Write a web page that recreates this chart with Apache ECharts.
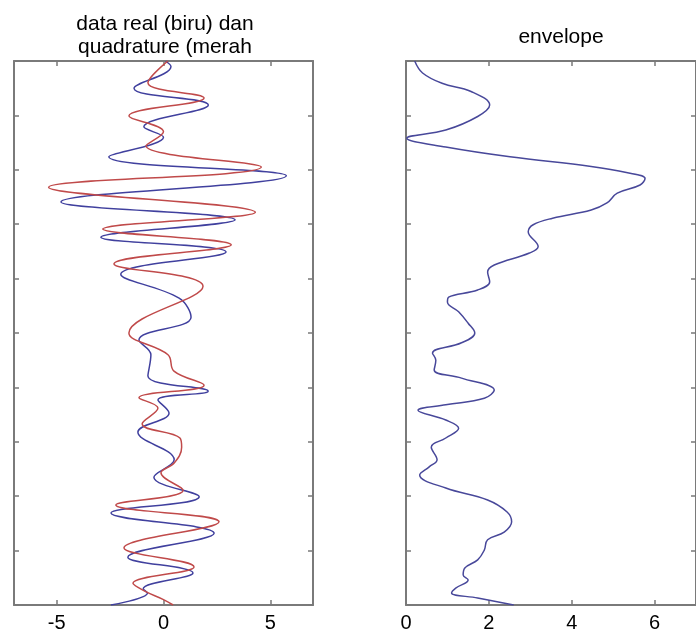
<!DOCTYPE html>
<html>
<head>
<meta charset="utf-8">
<script src="https://cdn.jsdelivr.net/npm/echarts@6/dist/echarts.min.js"></script>
<style>
  html, body { margin: 0; padding: 0; background: #fff; overflow: hidden; }
  #chart { width: 696px; height: 636px; }
</style>
</head>
<body>
<div id="chart"></div>
<script>
// Real trace (blue): depth samples and amplitudes
const blueDepth = [0, 1, 5.0, 8.1, 12.1, 14.0, 17.6, 21.1, 25.9, 29.2, 32.4, 35.1, 39.2, 43.6, 47.1, 51.3, 54.0, 57.9, 60.7, 62.3, 64.7, 68.2, 73.3, 76.5, 80.1, 83.1, 86.8, 91.2, 94.1, 97.0, 97.8, 100];
const blueValue = [0.1, 0.35, -1.38, 2.1, -0.92, 0.0, -2.56, 5.75, -4.8, 3.35, -2.93, 2.93, -2.0, 0.73, 1.29, -1.15, -0.59, -0.73, 2.09, -0.26, 0.26, -1.2, 0.5, -0.45, 1.67, -2.46, 2.37, -1.67, 1.38, -0.95, -0.75, -2.46];

// Quadrature trace (red)
const redDepth = [0, 4.0, 6.8, 10.1, 13.0, 15.6, 19.5, 23.2, 27.8, 30.9, 33.8, 37.3, 41.4, 50.0, 54.0, 57.0, 59.6, 61.9, 63.8, 66.7, 69.3, 71.0, 73.9, 75.7, 78.9, 81.6, 84.7, 89.5, 93.0, 96.0, 97.4, 99.0, 100];
const redValue = [0.2, -0.73, 1.9, -1.62, 0.0, -0.82, 4.58, -5.38, 4.3, -2.84, 3.17, -2.32, 1.85, -1.62, 0.21, 0.49, 1.9, -1.15, -0.26, -1.0, 0.77, 0.85, 0.5, -0.12, 0.92, -2.23, 2.6, -1.85, 1.43, -1.43, -0.9, 0.0, 0.45];

// Envelope
const envDepth = [0, 2.2, 4.1, 5.6, 8.1, 10.2, 12.7, 14.2, 15.8, 17.6, 19.4, 20.5, 21.6, 22.8, 24.3, 26.1, 27.4, 28.9, 30.1, 31.4, 34.1, 35.3, 37.5, 38.8, 40.6, 42.1, 43.4, 44.3, 46.1, 48.2, 50.0, 51.8, 53.7, 55.0, 56.8, 58.3, 60.5, 62.0, 63.2, 64.2, 66.0, 67.5, 69.3, 71.0, 73.3, 74.6, 76.1, 78.5, 80.7, 82.9, 84.7, 86.6, 88.0, 89.9, 91.7, 93.2, 94.5, 95.4, 96.9, 97.8, 98.7, 100];
const envValue = [0.21, 0.4, 0.87, 1.57, 2.02, 1.73, 0.96, 0.02, 0.96, 2.51, 4.47, 5.32, 5.77, 5.65, 5.1, 4.85, 4.47, 3.54, 3.07, 2.95, 3.19, 2.98, 2.13, 1.97, 2.02, 1.73, 1.03, 1.0, 1.27, 1.5, 1.66, 1.34, 0.64, 0.72, 0.68, 1.34, 2.13, 1.89, 0.96, 0.29, 0.96, 1.27, 0.96, 0.61, 0.75, 0.56, 0.33, 0.96, 1.97, 2.44, 2.55, 2.37, 1.97, 1.89, 1.73, 1.42, 1.38, 1.5, 1.2, 1.1, 1.73, 2.6];

// Tick labels
const leftTicks = [-5, 0, 5];
const rightTicks = [0, 2, 4, 6];

const pairs = (vals, depths) => vals.map((v, i) => [v, depths[i]]);

const AXIS = '#7a7a7a';
const FONT = 'Liberation Sans, Arial, sans-serif';

function xAxisFor(gridIndex, pos, min, max, ticks, labels) {
  return {
    type: 'value', gridIndex, position: pos, min, max,
    splitLine: { show: false },
    axisLine: { show: true, onZero: false, lineStyle: { color: AXIS, width: 2 } },
    axisTick: { show: true, inside: true, length: 5, customValues: ticks, lineStyle: { color: AXIS, width: 1.5 } },
    axisLabel: labels ? { show: true, customValues: ticks, margin: 8, color: '#000', fontSize: 20, fontFamily: FONT } : { show: false }
  };
}
function yAxisFor(gridIndex, pos) {
  return {
    type: 'value', gridIndex, position: pos, min: 0, max: 100, interval: 10, inverse: true,
    splitLine: { show: false },
    axisLine: { show: true, onZero: false, lineStyle: { color: AXIS, width: 2 } },
    axisTick: { show: true, inside: true, length: 5, lineStyle: { color: AXIS, width: 1.5 } },
    axisLabel: { show: false }
  };
}

const chart = echarts.init(document.getElementById('chart'), null, { renderer: 'canvas' });
chart.setOption({
  animation: false,
  backgroundColor: '#fff',
  title: [
    { text: 'data real (biru) dan\nquadrature (merah', left: 160, top: 8, textAlign: 'center',
      textStyle: { fontSize: 21, fontWeight: 'normal', color: '#000', fontFamily: FONT, lineHeight: 23 } },
    { text: 'envelope', left: 556, top: 22, textAlign: 'center',
      textStyle: { fontSize: 21, fontWeight: 'normal', color: '#000', fontFamily: FONT } }
  ],
  grid: [
    { left: 14, top: 61, width: 299, height: 544 },
    { left: 406, top: 61, width: 299, height: 544 }
  ],
  xAxis: [
    xAxisFor(0, 'bottom', -7, 7, leftTicks, true),
    xAxisFor(0, 'top', -7, 7, leftTicks, false),
    xAxisFor(1, 'bottom', 0, 7, rightTicks, true),
    xAxisFor(1, 'top', 0, 7, rightTicks, false)
  ],
  yAxis: [
    yAxisFor(0, 'left'), yAxisFor(0, 'right'),
    yAxisFor(1, 'left'), yAxisFor(1, 'right')
  ],
  series: [
    { name: 'real', type: 'line', xAxisIndex: 0, yAxisIndex: 0, data: pairs(blueValue, blueDepth),
      smooth: 0.4, showSymbol: false, lineStyle: { color: '#40409e', width: 1.5 } },
    { name: 'quadrature', type: 'line', xAxisIndex: 0, yAxisIndex: 0, data: pairs(redValue, redDepth),
      smooth: 0.4, showSymbol: false, lineStyle: { color: '#c04a4a', width: 1.5 } },
    { name: 'envelope', type: 'line', xAxisIndex: 2, yAxisIndex: 2, data: pairs(envValue, envDepth),
      smooth: 0.4, showSymbol: false, lineStyle: { color: '#48489a', width: 1.5 } }
  ]
});
</script>
</body>
</html>
